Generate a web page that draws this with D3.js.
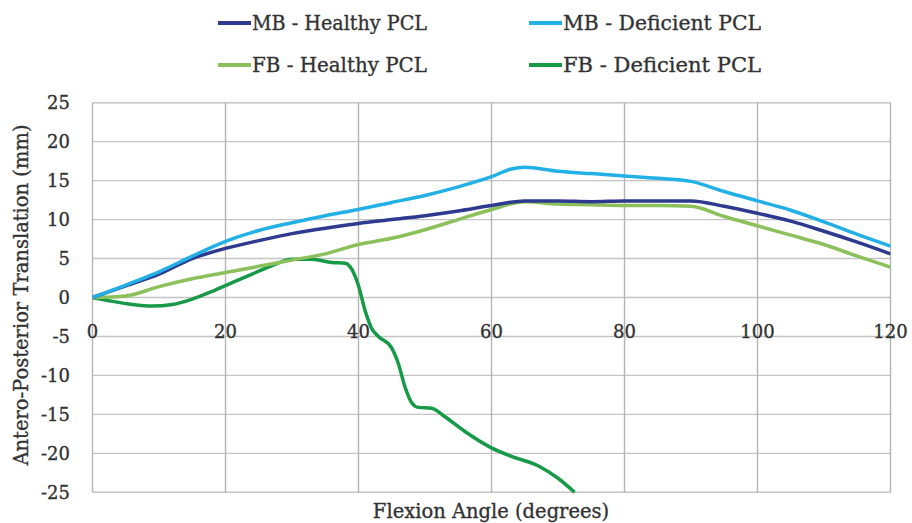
<!DOCTYPE html>
<html>
<head>
<meta charset="utf-8">
<script src="https://cdn.jsdelivr.net/npm/d3@7"></script>
<style>
  body { margin: 0; background: #fff; }
  svg text { font-family: "DejaVu Serif", "Liberation Serif", serif; fill: #333; stroke: #333; stroke-width: 0.35px; }
</style>
</head>
<body>
<svg id="chart"></svg>
<script>
"use strict";
// flexion angles (deg) and A-P translation (mm)
var angles = [0,5,10,15,20,25,30,35,40,45,50,55,60,65,70,75,80,85,90,95,100,105,110,115,120];
var mbHealthy = [0,1.5,3.0,5.0,6.3,7.3,8.2,8.9,9.5,10.0,10.5,11.1,11.8,12.4,12.4,12.3,12.4,12.4,12.4,11.7,10.8,9.8,8.5,7.1,5.6];
var fbHealthy = [0,0.2,1.4,2.4,3.2,4.0,4.8,5.6,6.8,7.6,8.7,10.0,11.3,12.3,12.0,11.9,11.8,11.8,11.7,10.4,9.2,8.0,6.8,5.3,3.9];
var mbDefAngles = [0,5,10,15,20,25,30,35,40,45,50,55,60,63,65,70,75,80,85,90,95,100,105,110,115,120];
var mbDeficient = [0,1.6,3.3,5.3,7.2,8.6,9.6,10.5,11.3,12.2,13.1,14.2,15.5,16.5,16.7,16.2,15.9,15.6,15.3,14.9,13.6,12.4,11.2,9.7,8.1,6.6];
var fbDefAngles = [0,3,6,9,12,15,18,21,24,27,30,33,36,38,39,40,41,42,43,45,46,47,48,49,51,53,56,60,63,67,70,72.5];
var fbDeficient = [0,-0.5,-0.9,-1.1,-0.9,-0.2,0.8,1.9,3.0,4.1,4.9,4.9,4.5,4.4,3.6,1.5,-1.7,-4.0,-5.0,-6.5,-8.5,-11.5,-13.5,-14.1,-14.2,-15.3,-17.2,-19.3,-20.4,-21.6,-23.2,-25];

var seriesNames = ["MB - Healthy PCL", "MB - Deficient PCL", "FB - Healthy PCL", "FB - Deficient PCL"];
var colors = ["#2e3a8f", "#22b0e6", "#8cc05a", "#169a48"];
var xTicks = [0,20,40,60,80,100,120];
var yTicks = [-25,-20,-15,-10,-5,0,5,10,15,20,25];

var series = [
  { name: seriesNames[0], color: colors[0], pts: angles.map(function(a, i) { return [a, mbHealthy[i]]; }) },
  { name: seriesNames[1], color: colors[1], pts: mbDefAngles.map(function(a, i) { return [a, mbDeficient[i]]; }) },
  { name: seriesNames[2], color: colors[2], pts: angles.map(function(a, i) { return [a, fbHealthy[i]]; }) },
  { name: seriesNames[3], color: colors[3], pts: fbDefAngles.map(function(a, i) { return [a, fbDeficient[i]]; }) }
];

var width = 912, height = 523;
var svg = d3.select("#chart").attr("width", width).attr("height", height);

var x = d3.scaleLinear().domain([0, 120]).range([92.5, 890.5]);
var y = d3.scaleLinear().domain([-25, 25]).range([492.3, 102.7]);

// gridlines
var grid = svg.append("g");
grid.selectAll("line.h").data(yTicks).enter().append("line")
  .attr("x1", x(0)).attr("x2", x(120))
  .attr("y1", function(d) { return y(d); }).attr("y2", function(d) { return y(d); })
  .attr("stroke", "#c4c4c4").attr("stroke-width", 1.4);
grid.selectAll("line.v").data(xTicks).enter().append("line")
  .attr("y1", y(25)).attr("y2", y(-25))
  .attr("x1", function(d) { return x(d); }).attr("x2", function(d) { return x(d); })
  .attr("stroke", "#b4b4b4").attr("stroke-width", 1.4);

// y tick labels
svg.append("g").selectAll("text").data(yTicks).enter().append("text")
  .attr("x", 70).attr("y", function(d) { return y(d); })
  .attr("dy", "0.36em").attr("text-anchor", "end")
  .style("font-size", "18px")
  .text(function(d) { return d; });

// x tick labels sit just under the zero line
svg.append("g").selectAll("text").data(xTicks).enter().append("text")
  .attr("x", function(d) { return x(d); }).attr("y", y(0) + 40)
  .attr("text-anchor", "middle")
  .style("font-size", "18px")
  .text(function(d) { return d; });

svg.append("defs").append("clipPath").attr("id", "plot")
  .append("rect").attr("x", x(0)).attr("y", y(25))
  .attr("width", x(120) - x(0)).attr("height", y(-25) - y(25) + 2);

var line = d3.line()
  .x(function(d) { return x(d[0]); })
  .y(function(d) { return y(d[1]); })
  .curve(d3.curveMonotoneX);

var order = [3, 2, 0, 1];
svg.append("g").attr("clip-path", "url(#plot)")
  .selectAll("path").data(order.map(function(i) { return series[i]; })).enter().append("path")
  .attr("d", function(d) { return line(d.pts); })
  .attr("fill", "none")
  .attr("stroke", function(d) { return d.color; })
  .attr("stroke-width", 3.5)
  .attr("stroke-linejoin", "round");

// legend
var legendPos = [[218, 23], [529, 23], [218, 65], [529, 65]];
var leg = svg.append("g").selectAll("g").data(series).enter().append("g")
  .attr("transform", function(d, i) { return "translate(" + legendPos[i] + ")"; });
leg.append("line").attr("x1", 0).attr("x2", 33)
  .attr("stroke", function(d) { return d.color; }).attr("stroke-width", 4);
leg.append("text").attr("x", 34).attr("dy", "0.35em")
  .style("font-size", "20px")
  .attr("textLength", function(d, i) { return i % 2 ? 198 : 175; })
  .attr("lengthAdjust", "spacingAndGlyphs")
  .text(function(d) { return d.name; });

// axis titles
svg.append("text").attr("x", 491).attr("y", 518)
  .attr("text-anchor", "middle").style("font-size", "19.5px")
  .text("Flexion Angle (degrees)");
svg.append("text").attr("transform", "translate(28,295) rotate(-90)")
  .attr("text-anchor", "middle").style("font-size", "19.5px")
  .text("Antero-Posterior Translation (mm)");
</script>
</body>
</html>
